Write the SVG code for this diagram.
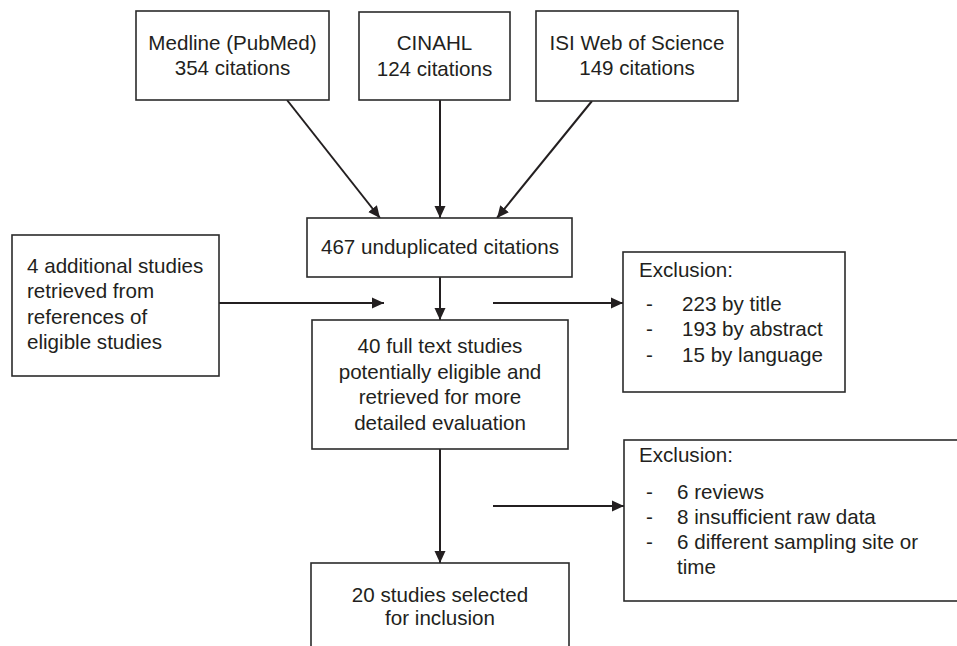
<svg xmlns="http://www.w3.org/2000/svg" width="957" height="646" viewBox="0 0 957 646">
<defs>
<style>
.box{fill:#fff;stroke:#2b2b2b;stroke-width:1.6}
.t{font-family:"Liberation Sans",Arial,Helvetica,sans-serif;font-size:20.6px;fill:#231f20}
.c{text-anchor:middle}
.ln{stroke:#231f20;stroke-width:2;fill:none;marker-end:url(#ah)}
</style>
<marker id="ah" markerUnits="userSpaceOnUse" markerWidth="12" markerHeight="12" viewBox="0 0 12 12" refX="12" refY="6" orient="auto">
<path d="M0,0.5 L12,6 L0,11.5 Z" fill="#231f20"/>
</marker>
</defs>
<rect width="957" height="646" fill="#fff"/>
<g id="connectors">
<line class="ln" x1="287" y1="100" x2="380" y2="218"/>
<line class="ln" x1="440" y1="100" x2="440" y2="218"/>
<line class="ln" x1="592" y1="101" x2="497" y2="218"/>
<line class="ln" x1="440" y1="277" x2="440" y2="320"/>
<line class="ln" x1="219" y1="303" x2="384" y2="303"/>
<line class="ln" x1="493" y1="303" x2="623" y2="303"/>
<line class="ln" x1="440" y1="449" x2="440" y2="563"/>
<line class="ln" x1="493" y1="506" x2="624" y2="506"/>
</g>
<g id="medline">
<rect class="box" x="136" y="11" width="193" height="89"/>
<text class="t c" x="232.5" y="50">Medline (PubMed)</text>
<text class="t c" x="232.5" y="75">354 citations</text>
</g>
<g id="cinahl">
<rect class="box" x="359" y="12" width="151" height="88"/>
<text class="t c" x="434.5" y="50">CINAHL</text>
<text class="t c" x="434.5" y="76">124 citations</text>
</g>
<g id="isi">
<rect class="box" x="536" y="11" width="202" height="90"/>
<text class="t c" x="637" y="50">ISI Web of Science</text>
<text class="t c" x="637" y="75">149 citations</text>
</g>
<g id="unduplicated">
<rect class="box" x="307" y="218" width="265" height="59"/>
<text class="t c" x="440" y="254">467 unduplicated citations</text>
</g>
<g id="additional">
<rect class="box" x="12" y="235" width="207" height="141"/>
<text class="t" x="27" y="273">4 additional studies</text>
<text class="t" x="27" y="298">retrieved from</text>
<text class="t" x="27" y="324">references of</text>
<text class="t" x="27" y="349">eligible studies</text>
</g>
<g id="fulltext">
<rect class="box" x="312" y="320" width="256" height="129"/>
<text class="t c" x="440" y="353">40 full text studies</text>
<text class="t c" x="440" y="379">potentially eligible and</text>
<text class="t c" x="440" y="404">retrieved for more</text>
<text class="t c" x="440" y="430">detailed evaluation</text>
</g>
<g id="exclusion1">
<rect class="box" x="623" y="252" width="222" height="140"/>
<text class="t" x="639" y="277">Exclusion:</text>
<text class="t" x="646" y="311">-</text>
<text class="t" x="682" y="311">223 by title</text>
<text class="t" x="646" y="336">-</text>
<text class="t" x="682" y="336">193 by abstract</text>
<text class="t" x="646" y="362">-</text>
<text class="t" x="682" y="362">15 by language</text>
</g>
<g id="exclusion2">
<rect class="box" x="624" y="440" width="340" height="161"/>
<text class="t" x="639" y="462">Exclusion:</text>
<text class="t" x="646" y="499">-</text>
<text class="t" x="677" y="499">6 reviews</text>
<text class="t" x="646" y="524">-</text>
<text class="t" x="677" y="524">8 insufficient raw data</text>
<text class="t" x="646" y="549">-</text>
<text class="t" x="677" y="549">6 different sampling site or</text>
<text class="t" x="677" y="574">time</text>
</g>
<g id="selected">
<rect class="box" x="311" y="563" width="258" height="100"/>
<text class="t c" x="440" y="602">20 studies selected</text>
<text class="t c" x="440" y="625">for inclusion</text>
</g>
</svg>
